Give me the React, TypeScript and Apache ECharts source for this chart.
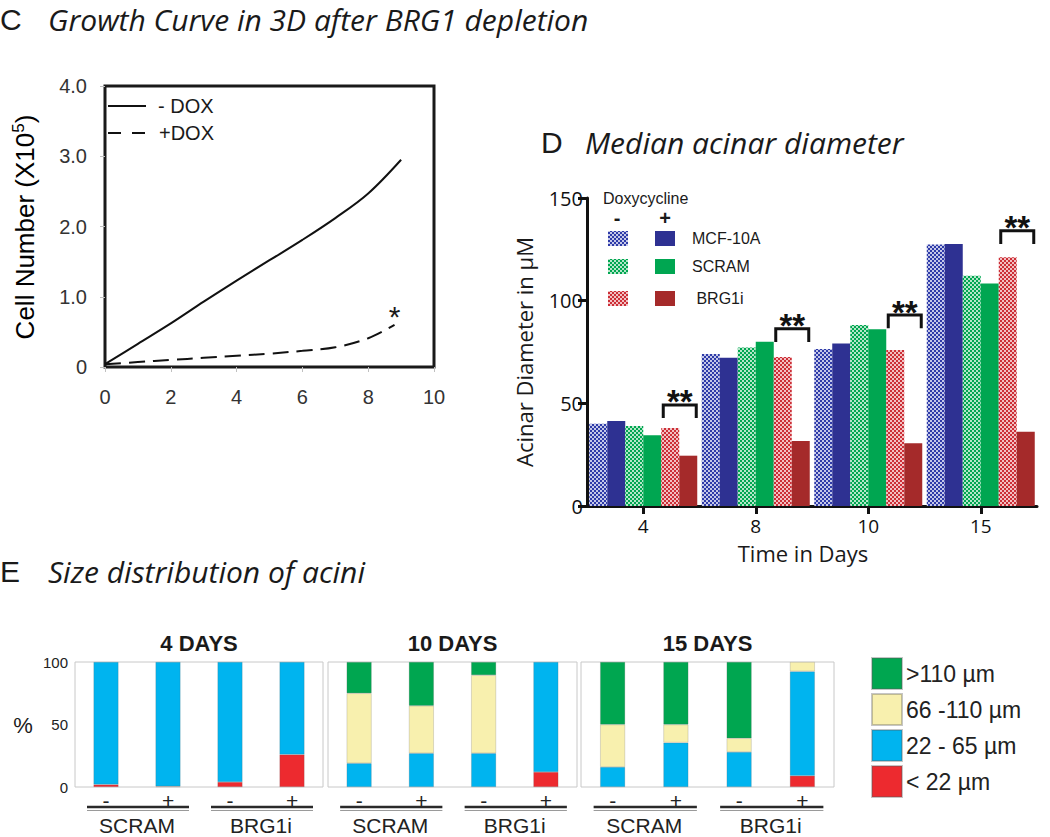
import React, { useEffect, useRef } from 'react';
import * as echarts from 'echarts';

// ---------- Panel C: growth curve ----------
const cDays = [0, 1, 2, 3, 4, 5, 6, 7, 8, 9];
const cMinusDox = [0.04, 0.33, 0.62, 0.93, 1.23, 1.52, 1.81, 2.12, 2.47, 2.95];
const cPlusDoxDays = [0, 1, 2, 3, 4, 5, 6, 7, 8, 8.8];
const cPlusDox = [0.04, 0.07, 0.1, 0.13, 0.16, 0.19, 0.23, 0.28, 0.41, 0.6];
const cStar = [8.8, 0.6];

// ---------- Panel D: median acinar diameter ----------
const dDays = ['4', '8', '10', '15'];
const dMcfMinus = [40, 74, 76.5, 127.3];
const dMcfPlus = [41.4, 72.2, 79.1, 127.6];
const dScramMinus = [39, 77.2, 88.1, 112.1];
const dScramPlus = [34.5, 80, 86.1, 108.4];
const dBrgMinus = [38, 72.6, 76, 121.1];
const dBrgPlus = [24.5, 31.7, 30.5, 36.1];
const dSigTop = [49.2, 86.3, 93, 134];
const dSigLeg = 6.4;
const dLines = ['MCF-10A', 'SCRAM', 'BRG1i'];

// ---------- Panel E: size distribution ----------
const ePanels = ['4 DAYS', '10 DAYS', '15 DAYS'];
const eDox = ['-', '+', '-', '+'];
const eCells = ['SCRAM', 'BRG1i'];
const eBins = ['< 22 µm', '22 - 65 µm', '66 -110 µm', '>110 µm'];
const eLt22 = [[2, 0.5, 4, 26], [0, 0, 0, 12], [0, 0, 0, 9]];
const e22to65 = [[98, 99.5, 96, 74], [19, 27, 27, 88], [16, 35.5, 28, 83.5]];
const e66to110 = [[0, 0, 0, 0], [56, 38, 62.5, 0], [34, 14.5, 11, 7.5]];
const eGt110 = [[0, 0, 0, 0], [25, 35, 10.5, 0], [50, 50, 61, 0]];

const SANS = '"Liberation Sans", Arial, sans-serif';
const MYR = '"Open Sans", sans-serif';

const BLUE = '#2E3192';
const GREEN = '#00A651';
const BRICK = '#A52A2A';

const E_COLORS = ['#ED2A2F', '#00B4EF', '#F8F0AE', '#00A650'];

function makeChecker(color: string, light: string) {
  const c = 2;
  const canvas = document.createElement('canvas');
  canvas.width = 2 * c;
  canvas.height = 2 * c;
  const ctx = canvas.getContext('2d')!;
  ctx.fillStyle = light;
  ctx.fillRect(0, 0, 2 * c, 2 * c);
  ctx.fillStyle = color;
  ctx.fillRect(0, 0, c, c);
  ctx.fillRect(c, c, c, c);
  return { image: canvas, repeat: 'repeat', imageWidth: 2 * c, imageHeight: 2 * c } as any;
}

const eGrids = [
  { left: 75, width: 248 },
  { left: 328, width: 249 },
  { left: 581, width: 253 },
];

export default function App() {
  const ref = useRef<HTMLDivElement>(null);

  useEffect(() => {
    if (!ref.current) return;
    const chart = echarts.init(ref.current, undefined, { renderer: 'svg' });

    const patBlue = makeChecker('#2E3BA8', '#c4c7e8');
    const patGreen = makeChecker('#00A651', '#b4e6c8');
    const patRed = makeChecker('#CC2E36', '#f2c0c2');

    const grids: any[] = [
      { left: 105, top: 86, width: 329, height: 281, show: true, borderColor: '#1a1a1a', borderWidth: 3 },
      { left: 587, top: 198, width: 450, height: 308 },
      ...eGrids.map((g) => ({ left: g.left, width: g.width, top: 662, height: 125, show: true, borderColor: '#c8c8c8', borderWidth: 1 })),
    ];

    const xAxes: any[] = [
      {
        type: 'value', gridIndex: 0, min: 0, max: 10, interval: 2,
        axisLine: { show: false }, splitLine: { show: false },
        axisTick: { show: true, length: 5, lineStyle: { color: '#c0c0c0' } },
        axisLabel: { margin: 20, fontSize: 20, color: '#333', fontFamily: SANS },
      },
      {
        type: 'category', gridIndex: 1, data: dDays,
        axisLine: { show: true, lineStyle: { color: '#111', width: 3 } },
        axisTick: { show: true, alignWithLabel: true, length: 8, lineStyle: { color: '#111', width: 3 } },
        axisLabel: { margin: 10, fontSize: 19, color: '#111', fontFamily: MYR },
      },
      ...eGrids.map((_, k) => ({
        type: 'category', gridIndex: 2 + k, data: eDox,
        axisLine: { show: false }, axisTick: { show: false },
        axisLabel: { margin: 3, fontSize: 21, color: '#222', fontFamily: SANS },
      })),
      ...eGrids.map((_, k) => ({
        type: 'category', gridIndex: 2 + k, data: eCells, position: 'bottom',
        axisLine: { show: false }, axisTick: { show: false },
        axisLabel: { margin: 28, fontSize: 21, color: '#222', fontFamily: SANS },
      })),
    ];

    const yAxes: any[] = [
      {
        type: 'value', gridIndex: 0, min: 0, max: 4, interval: 1,
        axisLine: { show: false }, splitLine: { show: false },
        axisTick: { show: true, length: 5, lineStyle: { color: '#c0c0c0' } },
        axisLabel: { margin: 18, fontSize: 20, color: '#333', fontFamily: SANS, formatter: (v: number) => (v === 0 ? '0' : v.toFixed(1)) },
      },
      {
        type: 'value', gridIndex: 1, min: 0, max: 150, interval: 50,
        axisLine: { show: true, lineStyle: { color: '#111', width: 3 } },
        axisTick: { show: true, length: 9, lineStyle: { color: '#111', width: 3 } },
        splitLine: { show: false },
        axisLabel: { margin: 4, fontSize: 20, color: '#111', fontFamily: MYR },
      },
      ...eGrids.map((_, k) => ({
        type: 'value', gridIndex: 2 + k, min: 0, max: 100, interval: 50,
        axisLine: { show: false }, axisTick: { show: false }, splitLine: { show: false },
        axisLabel: { show: k === 0, margin: 7, fontSize: 15, color: '#222', fontFamily: SANS },
      })),
    ];

    const dBar = (name: string, data: number[], color: any) => ({
      type: 'bar', name, xAxisIndex: 1, yAxisIndex: 1, data,
      barGap: '0%', barCategoryGap: '4%',
      itemStyle: { color },
    });

    const series: any[] = [
      {
        type: 'line', name: '- DOX', xAxisIndex: 0, yAxisIndex: 0,
        data: cDays.map((d, i) => [d, cMinusDox[i]]),
        smooth: 0.35, showSymbol: false, symbol: 'none',
        lineStyle: { color: '#111', width: 2 },
      },
      {
        type: 'line', name: '+DOX', xAxisIndex: 0, yAxisIndex: 0,
        data: cPlusDoxDays.map((d, i) => [d, cPlusDox[i]]),
        smooth: 0.35, showSymbol: false, symbol: 'none',
        lineStyle: { color: '#111', width: 2, type: [16, 8] },
      },
      dBar('MCF-10A -', dMcfMinus, patBlue),
      dBar('MCF-10A +', dMcfPlus, BLUE),
      dBar('SCRAM -', dScramMinus, patGreen),
      dBar('SCRAM +', dScramPlus, GREEN),
      dBar('BRG1i -', dBrgMinus, patRed),
      dBar('BRG1i +', dBrgPlus, BRICK),
      {
        type: 'custom', name: 'sig', xAxisIndex: 1, yAxisIndex: 1,
        data: dSigTop.map((v, i) => [i, v]),
        encode: { x: 0, y: 1 },
        z: 5,
        renderItem: (params: any, api: any) => {
          const idx = api.value(0);
          const top = api.value(1);
          const c = api.coord([idx, top]);
          const band = api.size([1, 0])[0];
          const gw = band * 0.96;
          const bw = gw / 6;
          const x1 = c[0] - gw / 2 + 4 * bw + 2;
          const x2 = c[0] + gw / 2 - 1;
          const yLeg = api.coord([idx, top - dSigLeg])[1];
          return {
            type: 'group',
            children: [
              {
                type: 'polyline',
                shape: { points: [[x1, yLeg], [x1, c[1]], [x2, c[1]], [x2, yLeg]] },
                style: { stroke: '#111', lineWidth: 3, fill: 'none' },
              },
              {
                type: 'text', x: (x1 + x2) / 2, y: c[1] - 3,
                style: { text: '**', fontSize: 33, fontWeight: 'bold', fontFamily: SANS, fill: '#111', align: 'center', verticalAlign: 'middle' },
              },
            ],
          };
        },
      },
    ];

    const eSets = [eLt22, e22to65, e66to110, eGt110];
    eGrids.forEach((_, k) => {
      eSets.forEach((set, b) => {
        series.push({
          type: 'bar', name: eBins[b], xAxisIndex: 2 + k, yAxisIndex: 2 + k,
          stack: 'e' + k, barWidth: 25,
          data: set[k].map((v) => (v === 0 ? null : v)),
          itemStyle: { color: E_COLORS[b], borderColor: 'rgba(90,90,90,0.35)', borderWidth: 0.6 },
        });
      });
    });

    const txt = (text: string, x: number, y: number, font: string, extra: any = {}) => ({
      type: 'text', x, y, silent: true,
      style: { text, font, fill: '#1a1a1a', align: 'left', verticalAlign: 'middle', ...extra },
    });

    const graphics: any[] = [
      // titles
      txt('C', 0, 19, `30px ${SANS}`, { lineHeight: 30 }),
      txt('Growth Curve in 3D after BRG1 depletion', 48, 19, `italic 30px ${MYR}`, { lineHeight: 30 }),
      txt('D', 541, 142, `30px ${SANS}`, { lineHeight: 30 }),
      txt('Median acinar diameter', 585, 142, `italic 30px ${MYR}`, { lineHeight: 30 }),
      txt('E', 0, 571, `30px ${SANS}`, { lineHeight: 30 }),
      txt('Size distribution of acini', 48, 571, `italic 30px ${MYR}`, { lineHeight: 30 }),
      // C axis name
      {
        type: 'text', x: 25, y: 227, rotation: Math.PI / 2, silent: true,
        style: {
          text: '{a|Cell Number (X10}{b|5}{a|)}', align: 'center', verticalAlign: 'middle',
          rich: {
            a: { fontSize: 26, fontFamily: SANS, color: '#222', lineHeight: 30 },
            b: { fontSize: 17, fontFamily: SANS, color: '#222', verticalAlign: 'top', lineHeight: 18 },
          },
        },
      },
      // C legend
      { type: 'line', silent: true, shape: { x1: 108, y1: 106, x2: 146, y2: 106 }, style: { stroke: '#111', lineWidth: 2 } },
      { type: 'line', silent: true, shape: { x1: 108, y1: 133, x2: 146, y2: 133 }, style: { stroke: '#111', lineWidth: 2, lineDash: [13, 11] } },
      txt('- DOX', 158, 106, `20px ${SANS}`),
      txt('+DOX', 159, 133, `20px ${SANS}`),
      // D axis names
      {
        type: 'text', x: 524, y: 352, rotation: Math.PI / 2, silent: true,
        style: { text: 'Acinar Diameter in µM', font: `22px ${MYR}`, fill: '#1a1a1a', align: 'center', verticalAlign: 'middle' },
      },
      txt('Time in Days', 803, 553, `22px ${MYR}`, { align: 'center' }),
      // D legend
      txt('Doxycycline', 603, 198, `16px ${SANS}`),
      txt('-', 617, 218, `bold 20px ${SANS}`, { align: 'center' }),
      txt('+', 665, 218, `bold 20px ${SANS}`, { align: 'center' }),
      // E labels
      txt('%', 23, 725, `22px ${SANS}`, { align: 'center' }),
      ...ePanels.map((p, k) => txt(p, eGrids[k].left + eGrids[k].width / 2, 643, `bold 22px ${SANS}`, { align: 'center' })),
    ];

    const legRows = [
      { y: 238, hatch: patBlue, solid: BLUE },
      { y: 266, hatch: patGreen, solid: GREEN },
      { y: 298, hatch: patRed, solid: BRICK },
    ];
    legRows.forEach((r, i) => {
      graphics.push({ type: 'rect', silent: true, shape: { x: 608, y: r.y - 7, width: 20, height: 15 }, style: { fill: r.hatch } });
      graphics.push({ type: 'rect', silent: true, shape: { x: 655, y: r.y - 7, width: 20, height: 15 }, style: { fill: r.solid } });
      graphics.push(txt((i === 2 ? ' ' : '') + dLines[i], 692, r.y, `16px ${SANS}`));
    });

    const option: any = {
      animation: false,
      backgroundColor: '#ffffff',
      grid: grids,
      xAxis: xAxes,
      yAxis: yAxes,
      legend: {
        data: [eBins[3], eBins[2], eBins[1], eBins[0]],
        orient: 'vertical', left: 866, top: 652,
        itemWidth: 30, itemHeight: 31, itemGap: 3, icon: 'rect',
        selectedMode: false,
        textStyle: { fontSize: 23, fontFamily: SANS, color: '#222', padding: [0, 0, 0, -1] },
      },
      series,
      graphic: graphics,
    };

    chart.setOption(option);

    // Second pass: elements anchored to data through the axes' scales
    const extra: any[] = [];
    const sp = chart.convertToPixel({ xAxisIndex: 0, yAxisIndex: 0 }, cStar) as number[];
    extra.push(txt('*', sp[0], sp[1] - 8, `30px ${SANS}`, { align: 'center' }));
    eGrids.forEach((_, k) => {
      for (let j = 0; j < 2; j++) {
        const xa = chart.convertToPixel({ xAxisIndex: 2 + k }, 2 * j) as number;
        const xb = chart.convertToPixel({ xAxisIndex: 2 + k }, 2 * j + 1) as number;
        const x1 = xa - 19;
        const x2 = xb + 21;
        extra.push({ type: 'line', silent: true, shape: { x1, y1: 807, x2, y2: 807 }, style: { stroke: '#2a2a2a', lineWidth: 2.5 } });
        extra.push({ type: 'line', silent: true, shape: { x1, y1: 810.5, x2, y2: 810.5 }, style: { stroke: '#9a9a9a', lineWidth: 1 } });
      }
    });
    chart.setOption({ graphic: [...graphics, ...extra] });

    return () => chart.dispose();
  }, []);

  return <div ref={ref} style={{ position: 'absolute', left: 0, top: 0, width: 1050, height: 837, background: '#fff' }} />;
}
